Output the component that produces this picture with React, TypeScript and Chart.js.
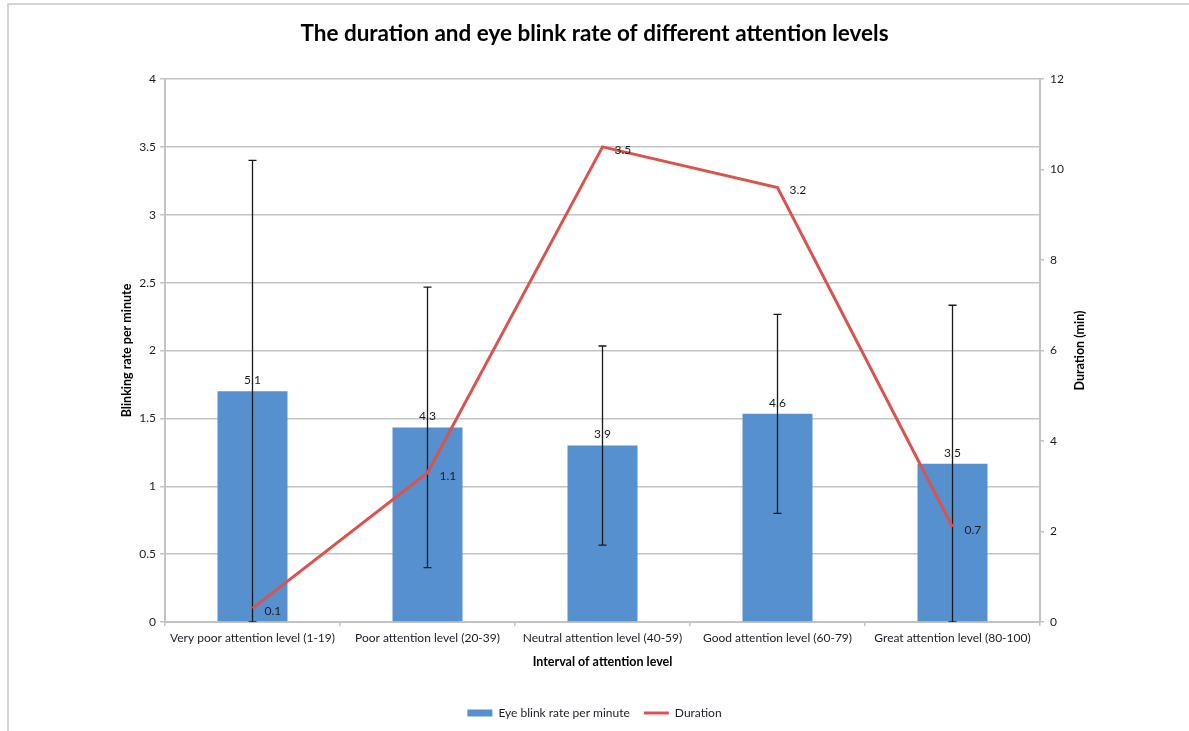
import React, { useEffect, useRef } from "react";
import { Chart, registerables } from "chart.js";

Chart.register(...registerables);

const categories = [
  "Very poor attention level (1-19)",
  "Poor attention level (20-39)",
  "Neutral attention level (40-59)",
  "Good attention level (60-79)",
  "Great attention level (80-100)",
];
const blinkRate = [5.1, 4.3, 3.9, 4.6, 3.5];
const blinkError = [5.1, 3.1, 2.2, 2.2, 3.5];
const duration = [0.1, 1.1, 3.5, 3.2, 0.7];

const leftMin = 0;
const leftMax = 4;
const leftStep = 0.5;
const rightMin = 0;
const rightMax = 12;
const rightStep = 2;

const FONT = "Lato, 'Open Sans', sans-serif";
const BLUE = "#5690CE";
const RED = "#D9534F";
const GRID = "#c3c3c3";
const TEXT = "#1c1c24";

const decor = {
  id: "decor",
  beforeDraw(chart: any) {
    const ctx = chart.ctx;
    ctx.save();
    ctx.strokeStyle = "#c8c8c8";
    ctx.lineWidth = 1.5;
    ctx.beginPath();
    ctx.moveTo(8, chart.height);
    ctx.lineTo(8, 4);
    ctx.lineTo(chart.width, 4);
    ctx.stroke();
    ctx.restore();
  },
  afterDatasetDraw(chart: any, args: any) {
    if (args.index !== 0) return;
    const ctx = chart.ctx;
    const meta = chart.getDatasetMeta(0);
    const y1 = chart.scales.y1;
    const a = chart.chartArea;
    ctx.save();
    ctx.beginPath();
    ctx.rect(a.left, a.top, a.right - a.left, a.bottom - a.top);
    ctx.clip();
    ctx.strokeStyle = "#1a1a1a";
    ctx.lineWidth = 1.3;
    meta.data.forEach((el: any, i: number) => {
      const v = blinkRate[i];
      const e = blinkError[i];
      const yt = y1.getPixelForValue(v + e);
      const yb = y1.getPixelForValue(v - e);
      ctx.beginPath();
      ctx.moveTo(el.x, yt);
      ctx.lineTo(el.x, yb);
      ctx.moveTo(el.x - 4, yt);
      ctx.lineTo(el.x + 4, yt);
      ctx.moveTo(el.x - 4, yb);
      ctx.lineTo(el.x + 4, yb);
      ctx.stroke();
    });
    ctx.restore();
  },
  afterDatasetsDraw(chart: any) {
    const ctx = chart.ctx;
    const a = chart.chartArea;
    ctx.save();
    ctx.fillStyle = TEXT;
    ctx.font = `12px ${FONT}`;
    const bars = chart.getDatasetMeta(0);
    ctx.textAlign = "center";
    ctx.textBaseline = "bottom";
    bars.data.forEach((el: any, i: number) => {
      ctx.fillText(String(blinkRate[i]), el.x, el.y - 5);
    });
    const line = chart.getDatasetMeta(1);
    ctx.textAlign = "left";
    ctx.textBaseline = "middle";
    line.data.forEach((el: any, i: number) => {
      ctx.fillText(String(duration[i]), el.x + 12, el.y + 3);
    });
    ctx.font = `bold 12.5px ${FONT}`;
    ctx.translate(1080, (a.top + a.bottom) / 2);
    ctx.rotate(-Math.PI / 2);
    ctx.textAlign = "center";
    ctx.textBaseline = "middle";
    ctx.fillStyle = "#000";
    ctx.fillText("Duration (min)", 0, 0);
    ctx.restore();
  },
};

export default function App() {
  const ref = useRef<HTMLCanvasElement | null>(null);
  useEffect(() => {
    if (!ref.current) return;
    const chart = new Chart(ref.current, {
      type: "bar",
      data: {
        labels: categories,
        datasets: [
          {
            type: "bar",
            label: "Eye blink rate per minute",
            data: blinkRate,
            yAxisID: "y1",
            backgroundColor: BLUE,
            borderWidth: 0,
            barPercentage: 0.4,
            categoryPercentage: 1,
            order: 1,
            pointStyle: "rect",
          } as any,
          {
            type: "line",
            label: "Duration",
            data: duration,
            yAxisID: "y",
            borderColor: RED,
            backgroundColor: RED,
            borderWidth: 3,
            pointRadius: 0,
            tension: 0,
            order: 0,
            pointStyle: "line",
          } as any,
        ],
      },
      options: {
        animation: false,
        responsive: true,
        maintainAspectRatio: false,
        layout: { padding: { left: 0, right: 0, top: 0, bottom: 2 } },
        plugins: {
          title: {
            display: true,
            text: "The duration and eye blink rate of different attention levels",
            font: { family: FONT, size: 22.5, weight: "bold" },
            color: "#000",
            padding: { top: 20, bottom: 32 },
          },
          legend: {
            position: "bottom",
            labels: {
              usePointStyle: true,
              pointStyleWidth: 25,
              boxWidth: 25,
              boxHeight: 7,
              padding: 14,
              font: { family: FONT, size: 12 },
              color: TEXT,
              sort: (a: any, b: any) => a.datasetIndex - b.datasetIndex,
            },
          },
          tooltip: { enabled: false },
        },
        scales: {
          x: {
            grid: {
              display: true,
              drawOnChartArea: false,
              offset: true,
              tickLength: 4,
              color: GRID,
              lineWidth: 1.5,
            },
            border: { color: GRID, width: 2 },
            ticks: {
              padding: 5,
              maxRotation: 0,
              autoSkip: false,
              font: { family: FONT, size: 12 },
              color: TEXT,
            },
            title: {
              display: true,
              text: "Interval of attention level",
              font: { family: FONT, size: 12.5, weight: "bold" },
              color: "#000",
              padding: { top: 4, bottom: 23.5 },
            },
            afterFit: (s: any) => {
              s.height = 71;
            },
          },
          y: {
            position: "left",
            min: leftMin,
            max: leftMax,
            ticks: {
              stepSize: leftStep,
              padding: 4,
              font: { family: FONT, size: 12 },
              color: TEXT,
              callback: (v: any) => String(v),
            },
            grid: { color: GRID, lineWidth: 1.5, tickLength: 5 },
            border: { color: GRID, width: 2 },
            title: {
              display: true,
              text: "Blinking rate per minute",
              font: { family: FONT, size: 12.5, weight: "bold" },
              color: "#000",
              padding: { top: 119.5, bottom: 0 },
            },
            afterFit: (s: any) => {
              s.width = 165;
            },
          },
          y1: {
            position: "right",
            min: rightMin,
            max: rightMax,
            ticks: {
              stepSize: rightStep,
              padding: 6,
              font: { family: FONT, size: 12 },
              color: TEXT,
            },
            grid: {
              drawOnChartArea: false,
              color: GRID,
              lineWidth: 1.5,
              tickLength: 4,
            },
            border: { color: GRID, width: 2 },
            afterFit: (s: any) => {
              s.width = 149;
            },
          },
        },
      } as any,
      plugins: [decor],
    });
    return () => chart.destroy();
  }, []);
  return (
    <div
      style={{
        position: "fixed",
        left: 0,
        top: 0,
        width: "1189px",
        height: "731px",
        overflow: "hidden",
        background: "#fff",
      }}
    >
      <canvas ref={ref} />
    </div>
  );
}
